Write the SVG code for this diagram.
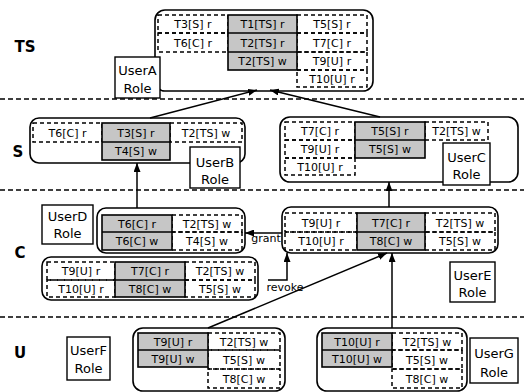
<svg xmlns="http://www.w3.org/2000/svg" width="524" height="392" viewBox="0 0 524 392">
  <defs>
    <marker id="ah" markerWidth="9" markerHeight="7" refX="9" refY="3.5" orient="auto" markerUnits="userSpaceOnUse">
      <path d="M0,0 L9,3.5 L0,7 z" fill="#000"/>
    </marker>
  </defs>
  <style>
    .cont { fill: #fff; stroke: #000; stroke-width: 1.6; }
    .dc { fill: none; stroke: #000; stroke-width: 1.5; stroke-dasharray: 4 3; }
    .sh { fill: #c6c6c6; stroke: #000; stroke-width: 1.6; }
    .dv { stroke: #000; stroke-width: 1.4; }
    .role { fill: #fff; stroke: #000; stroke-width: 1.4; }
    .t { font-family: "DejaVu Sans", "Liberation Sans", sans-serif; font-size: 11px; text-anchor: middle; fill: #000; }
    .r { font-size: 13px; }
    .lay { font-family: "DejaVu Sans", "Liberation Sans", sans-serif; font-size: 15px; font-weight: bold; fill: #000; text-anchor: middle; }
    .sep { stroke: #000; stroke-width: 1.3; stroke-dasharray: 5 3; }
    .cn { stroke: #000; stroke-width: 1.5; fill: none; marker-end: url(#ah); }
  </style>

  <!-- security levels -->
  <g id="levels">
    <line class="sep" x1="0" y1="99" x2="524" y2="99"/>
    <line class="sep" x1="0" y1="190" x2="524" y2="190"/>
    <line class="sep" x1="0" y1="317" x2="524" y2="317"/>
    <text class="lay" x="25" y="52">TS</text>
    <text class="lay" x="18" y="157">S</text>
    <text class="lay" x="20" y="258">C</text>
    <text class="lay" x="20" y="358">U</text>
  </g>

  <!-- TS level: UserA -->
  <g id="userA">
    <rect class="cont" x="155" y="10" width="218" height="81" rx="10"/>
    <rect class="dc" x="158" y="15" width="70" height="18"/>
    <rect class="dc" x="158" y="33" width="70" height="19"/>
    <rect class="dc" x="297" y="15" width="70" height="18"/>
    <rect class="dc" x="297" y="33" width="70" height="19"/>
    <rect class="dc" x="297" y="52" width="70" height="18"/>
    <rect class="dc" x="297" y="70" width="70" height="17"/>
    <rect class="sh" x="228" y="15" width="69" height="55"/>
    <line class="dv" x1="228" y1="33" x2="297" y2="33"/>
    <line class="dv" x1="228" y1="52" x2="297" y2="52"/>
    <text class="t" x="193" y="28">T3[S] r</text>
    <text class="t" x="193" y="46.5">T6[C] r</text>
    <text class="t" x="262.5" y="28">T1[TS] r</text>
    <text class="t" x="262.5" y="46.5">T2[TS] r</text>
    <text class="t" x="262.5" y="65">T2[TS] w</text>
    <text class="t" x="332" y="28">T5[S] r</text>
    <text class="t" x="332" y="46.5">T7[C] r</text>
    <text class="t" x="332" y="65">T9[U] r</text>
    <text class="t" x="332" y="82.5">T10[U] r</text>
    <rect class="role" x="115" y="57" width="45" height="41"/>
    <text class="t r" x="137.5" y="74.5">UserA</text>
    <text class="t r" x="137.5" y="92.5">Role</text>
  </g>

  <!-- S level: UserB -->
  <g id="userB">
    <rect class="cont" x="30" y="118" width="215" height="45" rx="9"/>
    <rect class="dc" x="33" y="123" width="69" height="19"/>
    <rect class="dc" x="170" y="123" width="72" height="19"/>
    <rect class="sh" x="102" y="123" width="68" height="37"/>
    <line class="dv" x1="102" y1="142" x2="170" y2="142"/>
    <text class="t" x="67.5" y="136.5">T6[C] r</text>
    <text class="t" x="136" y="136.5">T3[S] r</text>
    <text class="t" x="206" y="136.5">T2[TS] w</text>
    <text class="t" x="136" y="155">T4[S] w</text>
    <rect class="role" x="190" y="147" width="50" height="41"/>
    <text class="t r" x="215" y="166.5">UserB</text>
    <text class="t r" x="215" y="183.5">Role</text>
  </g>

  <!-- S level: UserC -->
  <g id="userC">
    <rect class="cont" x="280" y="117" width="238" height="65" rx="10"/>
    <rect class="dc" x="285" y="122" width="70" height="18"/>
    <rect class="dc" x="285" y="140" width="70" height="18"/>
    <rect class="dc" x="285" y="158" width="70" height="17"/>
    <rect class="dc" x="425" y="122" width="63" height="18"/>
    <rect class="sh" x="355" y="122" width="70" height="36"/>
    <line class="dv" x1="355" y1="140" x2="425" y2="140"/>
    <text class="t" x="320" y="135">T7[C] r</text>
    <text class="t" x="320" y="153">T9[U] r</text>
    <text class="t" x="320" y="170.5">T10[U] r</text>
    <text class="t" x="390" y="135">T5[S] r</text>
    <text class="t" x="390" y="153">T5[S] w</text>
    <text class="t" x="456.5" y="135">T2[TS] w</text>
    <rect class="role" x="443" y="143" width="47" height="42"/>
    <text class="t r" x="466.5" y="161.5">UserC</text>
    <text class="t r" x="466.5" y="178.5">Role</text>
  </g>

  <!-- C level: UserD -->
  <g id="userD">
    <rect class="cont" x="97" y="208" width="148" height="45" rx="9"/>
    <rect class="dc" x="172" y="215" width="70" height="17"/>
    <rect class="dc" x="172" y="232" width="70" height="18"/>
    <rect class="sh" x="102" y="215" width="70" height="35"/>
    <line class="dv" x1="102" y1="232" x2="172" y2="232"/>
    <text class="t" x="137" y="227.5">T6[C] r</text>
    <text class="t" x="137" y="245">T6[C] w</text>
    <text class="t" x="207" y="227.5">T2[TS] w</text>
    <text class="t" x="207" y="245">T4[S] w</text>
    <rect class="role" x="42" y="205" width="51" height="39"/>
    <text class="t r" x="67.5" y="220.5">UserD</text>
    <text class="t r" x="67.5" y="238">Role</text>
  </g>

  <!-- C level: permission set without role -->
  <g id="setC">
    <rect class="cont" x="42" y="257" width="216" height="43" rx="9"/>
    <rect class="dc" x="47" y="262" width="68" height="18"/>
    <rect class="dc" x="47" y="280" width="68" height="17"/>
    <rect class="dc" x="185" y="262" width="70" height="18"/>
    <rect class="dc" x="185" y="280" width="70" height="17"/>
    <rect class="sh" x="115" y="262" width="70" height="35"/>
    <line class="dv" x1="115" y1="280" x2="185" y2="280"/>
    <text class="t" x="81" y="275">T9[U] r</text>
    <text class="t" x="81" y="292.5">T10[U] r</text>
    <text class="t" x="150" y="275">T7[C] r</text>
    <text class="t" x="150" y="292.5">T8[C] w</text>
    <text class="t" x="220" y="275">T2[TS] w</text>
    <text class="t" x="220" y="292.5">T5[S] w</text>
  </g>

  <!-- C level: UserE -->
  <g id="userE">
    <rect class="cont" x="282" y="207" width="216" height="46" rx="9"/>
    <rect class="dc" x="285" y="213" width="72" height="19"/>
    <rect class="dc" x="285" y="232" width="72" height="18"/>
    <rect class="dc" x="425" y="213" width="70" height="19"/>
    <rect class="dc" x="425" y="232" width="70" height="18"/>
    <rect class="sh" x="357" y="213" width="68" height="37"/>
    <line class="dv" x1="357" y1="232" x2="425" y2="232"/>
    <text class="t" x="321" y="226.5">T9[U] r</text>
    <text class="t" x="321" y="245">T10[U] r</text>
    <text class="t" x="391" y="226.5">T7[C] r</text>
    <text class="t" x="391" y="245">T8[C] w</text>
    <text class="t" x="460" y="226.5">T2[TS] w</text>
    <text class="t" x="460" y="245">T5[S] w</text>
    <rect class="role" x="450" y="262" width="45" height="40"/>
    <text class="t r" x="472.5" y="279.5">UserE</text>
    <text class="t r" x="472.5" y="296.5">Role</text>
  </g>

  <!-- U level: UserF -->
  <g id="userF">
    <rect class="cont" x="133" y="328" width="152" height="63" rx="10"/>
    <rect class="dc" x="208" y="333" width="72" height="17"/>
    <rect class="dc" x="208" y="350" width="72" height="19"/>
    <rect class="dc" x="208" y="369" width="72" height="19"/>
    <rect class="sh" x="138" y="333" width="70" height="34"/>
    <line class="dv" x1="138" y1="350" x2="208" y2="350"/>
    <text class="t" x="173" y="345.5">T9[U] r</text>
    <text class="t" x="173" y="362.5">T9[U] w</text>
    <text class="t" x="244" y="345.5">T2[TS] w</text>
    <text class="t" x="244" y="363.5">T5[S] w</text>
    <text class="t" x="244" y="382.5">T8[C] w</text>
    <rect class="role" x="67" y="337" width="43" height="43"/>
    <text class="t r" x="88.5" y="354.5">UserF</text>
    <text class="t r" x="88.5" y="372.5">Role</text>
  </g>

  <!-- U level: UserG -->
  <g id="userG">
    <rect class="cont" x="317" y="328" width="150" height="63" rx="10"/>
    <rect class="dc" x="392" y="333" width="70" height="17"/>
    <rect class="dc" x="392" y="350" width="70" height="19"/>
    <rect class="dc" x="392" y="369" width="70" height="19"/>
    <rect class="sh" x="322" y="333" width="70" height="34"/>
    <line class="dv" x1="322" y1="350" x2="392" y2="350"/>
    <text class="t" x="357" y="345.5">T10[U] r</text>
    <text class="t" x="357" y="362.5">T10[U] w</text>
    <text class="t" x="427" y="345.5">T2[TS] w</text>
    <text class="t" x="427" y="363.5">T5[S] w</text>
    <text class="t" x="427" y="382.5">T8[C] w</text>
    <rect class="role" x="470" y="338" width="48" height="45"/>
    <text class="t r" x="494" y="357.5">UserG</text>
    <text class="t r" x="494" y="376.5">Role</text>
  </g>

  <!-- connectors -->
  <g id="connectors">
    <line class="cn" x1="150" y1="118" x2="257" y2="90"/>
    <line class="cn" x1="380" y1="117" x2="270" y2="90"/>
    <line class="cn" x1="137" y1="208" x2="137" y2="163"/>
    <line class="cn" x1="389" y1="207" x2="389" y2="182"/>
    <line class="cn" x1="282" y1="233" x2="245" y2="233"/>
    <polyline class="cn" points="268,280 287,280 287,253"/>
    <line class="cn" x1="208" y1="328" x2="387" y2="253"/>
    <line class="cn" x1="392" y1="328" x2="392" y2="253"/>
    <text class="t" x="266" y="242">grant</text>
    <text class="t" x="285" y="291">revoke</text>
  </g>
</svg>
